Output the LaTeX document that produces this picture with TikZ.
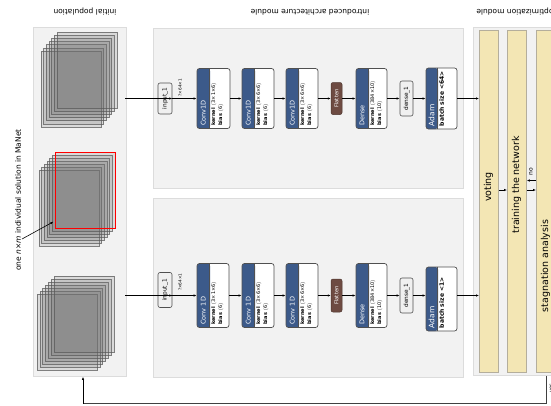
\documentclass[tikz,border=0pt]{standalone}
\usepackage{fontspec}
\setmainfont{DejaVu Sans}
\usetikzlibrary{arrows.meta}
\definecolor{panelbg}{HTML}{F2F2F2}
\definecolor{panelbd}{HTML}{DCDCDC}
\definecolor{lblue}{HTML}{3C5A8A}
\definecolor{lbrown}{HTML}{6E4B42}
\definecolor{colfill}{HTML}{F3E6B4}
\definecolor{colbd}{HTML}{B4AE9C}
\definecolor{nodebd}{HTML}{505050}
\definecolor{stackc}{HTML}{707070}
\newcommand\mlayer[8]{%
  \node[layerbox, minimum width=#4pt, minimum height=#5pt,
    path picture={\fill[lblue] (path picture bounding box.south west) rectangle ([xshift=#6pt]path picture bounding box.north west);}] (#1) at (#2,#3) {};
  \draw[nodebd, line width=0.5pt] ([xshift=#6pt]#1.north west) -- ([xshift=#6pt]#1.south west);
  \node[ltitle, rotate=90, anchor=west] at ([xshift=#6pt/2, yshift=3pt]#1.south west) {#7};
  \node[linfo, rotate=90, anchor=north west] at ([xshift=#6pt+1.4pt, yshift=3pt]#1.south west) {#8};
}
\newcommand\mstack[4]{% back-x, back-y, dx, dy
  \foreach \i in {0,...,6}{
    \path[stackrect] (#1+\i*#3, #2-\i*#4) rectangle ++(60,76);
  }
}
\begin{document}
\begin{tikzpicture}[x=1pt,y=-1pt,
  >={Latex[length=3pt,width=2.4pt]},
  panel/.style={fill=panelbg, draw=panelbd, line width=0.8pt, inner sep=0, anchor=north west},
  colbox/.style={fill=colfill, draw=colbd, line width=0.8pt, inner sep=0, anchor=north west, minimum width=19pt, minimum height=342pt},
  coltext/.style={rotate=90, font=\fontsize{9.5}{11}\selectfont},
  ttext/.style={rotate=180, font=\fontsize{7.5}{9}\selectfont},
  layerbox/.style={fill=white, draw=nodebd, line width=0.7pt, rounded corners=2.5pt, inner sep=0},
  ltitle/.style={inner sep=0, text=white, font=\fontsize{6.5}{7}\selectfont},
  linfo/.style={inner sep=0, align=left, font=\fontsize{5}{7}\selectfont},
  inbox/.style={fill=gray!12, draw=nodebd, line width=0.6pt, rounded corners=2pt, inner sep=0, minimum width=13pt, rotate=90, font=\fontsize{5.8}{6}\selectfont},
  flbox/.style={fill=lbrown, draw=lbrown!70!black, line width=0.5pt, rounded corners=2pt, inner sep=0, minimum width=32pt, minimum height=11pt, rotate=90, text=white, font=\fontsize{5.3}{6}\selectfont},
  shp/.style={rotate=90, inner sep=0, font=\fontsize{4.2}{5}\selectfont},
  stackrect/.style={fill=stackc, fill opacity=0.18, draw=black!65, draw opacity=0.75, line width=0.5pt},
  conn/.style={->, line width=0.6pt, draw=black}
]
\useasboundingbox (0,0) rectangle (551,405);
\fill[white] (0,0) rectangle (551,405);

% panels
\node[panel, minimum width=93pt, minimum height=349pt] (initpanel) at (33,27) {};
\node[panel, minimum width=310pt, minimum height=160pt] (archtop) at (153,28) {};
\node[panel, minimum width=310pt, minimum height=179pt] (archbot) at (153,198) {};
\node[panel, minimum width=95pt, minimum height=348pt] (optpanel) at (473,27) {};

% titles
\node[ttext] (t1) at (85,12) {initial population};
\node[ttext] (t2) at (310,12) {introduced architecture module};
\node[ttext] (t3) at (515,12) {optimization module};

% stacks
\mstack{41}{51}{2.667}{3.167}
\mstack{39}{170}{2.667}{3}
\mstack{37}{294}{2.833}{3}
\node[draw=red, line width=0.7pt, inner sep=0, minimum width=60pt, minimum height=76pt, anchor=north west] (redsol) at (55,152) {};
\coordinate (toprow) at (125,98.5);
\coordinate (botrow) at (125,295.5);

% label with arrow
\node[rotate=90, font=\fontsize{7.5}{9}\selectfont] (sollbl) at (18,200) {one {\itshape n×m} individual solution in MaNet};
\coordinate (lblpt) at (22,239);
\draw[conn] (lblpt) -- ([xshift=-1.5pt,yshift=7pt]redsol.south west);

% ---------- top row ----------
\node[inbox, minimum height=14pt, minimum width=31pt] (in1) at (165,98.5) {input\_1};
\node[shp, anchor=west] (s1) at (180,96.5) {?×64×1};
\mlayer{c1}{213.5}{98.5}{33}{60}{13}{Conv1D}{\textbf{kernel} $\langle$3×1×6$\rangle$\\\textbf{bias} $\langle$6$\rangle$}
\mlayer{c2}{258}{98.5}{32}{60}{13}{Conv1D}{\textbf{kernel} $\langle$3×6×6$\rangle$\\\textbf{bias} $\langle$6$\rangle$}
\mlayer{c3}{302}{98.5}{32}{60}{13}{Conv1D}{\textbf{kernel} $\langle$3×6×6$\rangle$\\\textbf{bias} $\langle$6$\rangle$}
\node[flbox] (fl1) at (336.5,98.5) {Flatten};
\mlayer{d1}{371.5}{98.5}{31}{60}{13}{Dense}{\textbf{kernel} $\langle$384×10$\rangle$\\\textbf{bias} $\langle$10$\rangle$}
\node[inbox, minimum height=13pt, minimum width=35pt] (dn1) at (406.5,98.5) {dense\_1};
\mlayer{ad1}{441.5}{98.5}{31}{61}{12}{\fontsize{7.5}{8}\selectfont Adam}{\fontsize{6}{7}\selectfont\bfseries batch size <64>}

% ---------- bottom row ----------
\node[inbox, minimum height=14pt, minimum width=35pt] (in2) at (165,290) {input\_1};
\node[shp, anchor=west] (s2) at (180,291) {?×64×1};
\mlayer{c4}{213}{295.5}{32}{64}{13}{Conv 1D}{\textbf{kernel} $\langle$3×1×6$\rangle$\\\textbf{bias} $\langle$6$\rangle$}
\mlayer{c5}{258}{295.5}{32}{64}{13}{Conv 1D}{\textbf{kernel} $\langle$3×6×6$\rangle$\\\textbf{bias} $\langle$6$\rangle$}
\mlayer{c6}{302}{295.5}{32}{64}{13}{Conv 1D}{\textbf{kernel} $\langle$3×6×6$\rangle$\\\textbf{bias} $\langle$6$\rangle$}
\node[flbox, minimum width=33pt] (fl2) at (336.5,295.5) {Flatten};
\mlayer{d2}{371.5}{295.5}{31}{64}{13}{Dense}{\textbf{kernel} $\langle$384×10$\rangle$\\\textbf{bias} $\langle$10$\rangle$}
\node[inbox, minimum height=13pt, minimum width=35pt] (dn2) at (406.5,295.5) {dense\_1};
\mlayer{ad2}{441.5}{299}{31}{64}{12}{\fontsize{7.5}{8}\selectfont Adam}{\fontsize{6}{7}\selectfont\bfseries batch size <1>}

% optimization columns
\node[colbox] (vote) at (479,30) {};
\node[colbox] (train) at (507,30) {};
\node[colbox] (stag) at (536,30) {};
\node[coltext] (vtxt) at (488.5,187) {voting};
\node[coltext] (ttxt) at (516.5,185) {training the network};
\node[coltext] (stxt) at (545.5,266) {stagnation analysis};

% connectors top
\draw[conn] (toprow) -- (toprow -| in1.south);
\draw[conn] (in1) -- (c1);
\draw[conn] (c1) -- (c2);
\draw[conn] (c2) -- (c3);
\draw[conn] (c3) -- (fl1);
\draw[conn] (fl1) -- (d1);
\draw[conn] (d1) -- (dn1);
\draw[conn] (dn1) -- (ad1);
\draw[conn] (ad1) -- (ad1 -| vote.west);
% connectors bottom
\draw[conn] (botrow) -- (botrow -| in2.south);
\draw[conn] (in2 |- botrow) -- (c4.west |- botrow);
\draw[conn] (c4) -- (c5);
\draw[conn] (c5) -- (c6);
\draw[conn] (c6) -- (fl2);
\draw[conn] (fl2) -- (d2);
\draw[conn] (d2) -- (dn2);
\draw[conn] (dn2) -- (dn2 -| ad2.west);
\draw[conn] (dn2 -| ad2.east) -- (dn2 -| vote.west);

% optimization arrows
\coordinate (opA) at (0,190);
\coordinate (opB) at (0,180.5);
\draw[conn] (opA -| vote.east) -- (opA -| train.west);
\draw[conn] (opA -| train.east) -- (opA -| stag.west);
\draw[conn] (opB -| stag.west) -- (opB -| train.east);
\node[rotate=90, inner sep=0, font=\fontsize{6}{7}\selectfont] (nolbl) at (531,172) {no};

% feedback loop
\coordinate (loopR) at (546,403.5);
\coordinate (loopL) at (83,403.5);
\draw[line width=0.6pt, draw=black!75] (optpanel.south -| loopR) -- (loopR) -- (loopL);
\draw[conn] (loopL) -- (initpanel.south -| loopL);
\node[rotate=90, inner sep=0, anchor=north, font=\fontsize{5}{6}\selectfont] (yeslbl) at (549.5,388) {yes};
\end{tikzpicture}
\end{document}
